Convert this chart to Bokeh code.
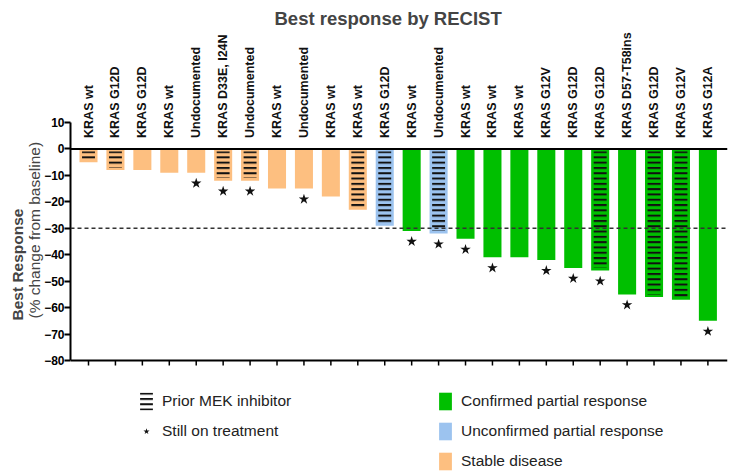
import math
from bokeh.plotting import figure
from bokeh.models import (Range1d, FixedTicker, Span, Title, Legend, LegendItem,
                          ColumnDataSource)
from bokeh.transform import dodge
from bokeh.core.properties import value
from bokeh.embed import file_html
from bokeh.resources import INLINE

# ---------------- data ----------------
mutation_labels = ["KRAS wt", "KRAS G12D", "KRAS G12D", "KRAS wt", "Undocumented",
                   "KRAS D33E, I24N", "Undocumented", "KRAS wt", "Undocumented",
                   "KRAS wt", "KRAS wt", "KRAS G12D", "KRAS wt", "Undocumented",
                   "KRAS wt", "KRAS wt", "KRAS wt", "KRAS G12V", "KRAS G12D",
                   "KRAS G12D", "KRAS D57-T58ins", "KRAS G12D", "KRAS G12V", "KRAS G12A"]
best_response = [-5, -8, -8, -9, -9, -12, -12, -15, -15, -18, -23, -29,
                 -31, -32, -34, -41, -41, -42, -45, -46, -55, -56, -57, -65]
response_type = ["SD"] * 11 + ["uPR", "cPR", "uPR"] + ["cPR"] * 10
prior_mek = [1, 1, 0, 0, 0, 1, 1, 0, 0, 0, 1, 1, 0, 1, 0, 0, 0, 0, 0, 1, 0, 1, 1, 0]
on_treatment = [0, 0, 0, 0, 1, 1, 1, 0, 1, 0, 0, 0, 1, 1, 1, 1, 0, 1, 1, 1, 1, 0, 0, 1]
y_ticks = list(range(-80, 11, 10))
threshold = -30

# ---------------- style ----------------
FONT = "Liberation Sans"
COLORS = {"cPR": "#00bf00", "uPR": "#9cc3ef", "SD": "#fdbf80"}
LEGEND_LABELS = {"cPR": "Confirmed partial response",
                 "uPR": "Unconfirmed partial response",
                 "SD": "Stable disease"}
HATCH_INSET = 1.0
STAR_GAP = 4.0
TICK_UNITS = 1.9

xs = list(range(1, len(best_response) + 1))
src = ColumnDataSource(dict(x=xs, value=best_response, label=mutation_labels,
                            color=[COLORS[r] for r in response_type]))
mek_idx = [i for i, m in enumerate(prior_mek) if m]
hsrc = ColumnDataSource(dict(x=[xs[i] for i in mek_idx],
                             value=[best_response[i] for i in mek_idx]))
tr_idx = [i for i, t in enumerate(on_treatment) if t]
ssrc = ColumnDataSource(dict(x=[xs[i] for i in tr_idx],
                             value=[best_response[i] for i in tr_idx]))

y_low = y_ticks[0]
p = figure(width=731, height=476, output_backend="svg", toolbar_location=None,
           x_range=Range1d(0.3316, 24.728), y_range=Range1d(-123.87, 44.79),
           x_axis_location=None,
           min_border_left=70, min_border_right=4, min_border_top=30,
           min_border_bottom=0)
p.grid.visible = False
p.outline_line_color = None

p.title.text = "Best response by RECIST"
p.title.align = "left"
p.title.offset = 204
p.title.text_font = FONT
p.title.text_font_size = "18.5px"
p.title.text_font_style = "bold"
p.title.vertical_align = "bottom"
p.title.standoff = 3

bars = p.vbar(x="x", top=0, bottom="value", width=0.67, fill_color="color",
              line_color=None, source=src)
hatch = p.vbar(x="x", top=-HATCH_INSET, bottom=dodge("value", HATCH_INSET), width=0.48,
               fill_color=None, line_color=None, hatch_pattern="horizontal_line",
               hatch_scale=5.3, hatch_weight=2, hatch_color="#111111", source=hsrc)
stars = p.scatter(x="x", y=dodge("value", -STAR_GAP), marker="star", size=11,
                  fill_color="#111111", line_color=None, source=ssrc)
blank = p.scatter(x=[], y=[], marker="circle", size=1, fill_alpha=0, line_alpha=0)
p.text(x="x", y=0, text="label", angle=math.pi / 2, text_align="left",
       text_baseline="middle", y_offset=-11, text_font=value(FONT),
       text_font_style="bold", text_font_size="12.5px", text_color="#111111", source=src)

p.add_layout(Span(location=threshold, dimension="width", line_color="#333333",
                  line_dash="4 3", line_width=1.5))
p.add_layout(Span(location=0, dimension="width", line_color="black", line_width=2))

# bottom axis line and ticks (at the lowest y tick)
p.add_layout(Span(location=y_low, dimension="width", line_color="black", line_width=2))
p.segment(x0="x", x1="x", y0=y_low, y1=y_low - TICK_UNITS, line_color="black",
          line_width=1.5, source=src)

# left axis
ya = p.yaxis[0]
ya.ticker = FixedTicker(ticks=y_ticks)
ya.bounds = (y_ticks[0], y_ticks[-1])
ya.axis_line_width = 2
ya.major_tick_line_width = 2
ya.major_tick_out = 6
ya.major_tick_in = 0
ya.minor_tick_line_color = None
ya.major_label_text_font = FONT
ya.major_label_text_font_style = "bold"
ya.major_label_text_font_size = "12px"
ya.major_label_text_color = "black"
ya.major_label_standoff = 0

t_paren = Title(text="(% change from baseline)", align="left", offset=158,
                text_font=FONT, text_font_size="15.5px", text_font_style="normal",
                standoff=-3)
p.add_layout(t_paren, "left")
t_best = Title(text="Best  Response", align="left", offset=156,
               text_font=FONT, text_font_size="15.5px", text_font_style="bold",
               standoff=0)
p.add_layout(t_best, "left")

first = {r: response_type.index(r) for r in ["cPR", "uPR", "SD"]}
items = [LegendItem(label="Prior MEK inhibitor", renderers=[hatch]),
         LegendItem(label="Still on treatment", renderers=[stars]),
         LegendItem(label="", renderers=[blank])]
items += [LegendItem(label=LEGEND_LABELS[r], renderers=[bars], index=first[r])
          for r in ["cPR", "uPR", "SD"]]
leg = Legend(items=items, location=(68, 4), orientation="vertical", nrows=3,
             glyph_width=16, glyph_height=22, label_height=22, label_width=267,
             label_standoff=8, spacing=8, padding=0, margin=0,
             border_line_color=None, background_fill_alpha=0,
             label_text_font=FONT, label_text_font_size="15.5px",
             label_text_color="#222222")
p.add_layout(leg, "center")

open("out.html", "w").write(file_html(p, INLINE))
